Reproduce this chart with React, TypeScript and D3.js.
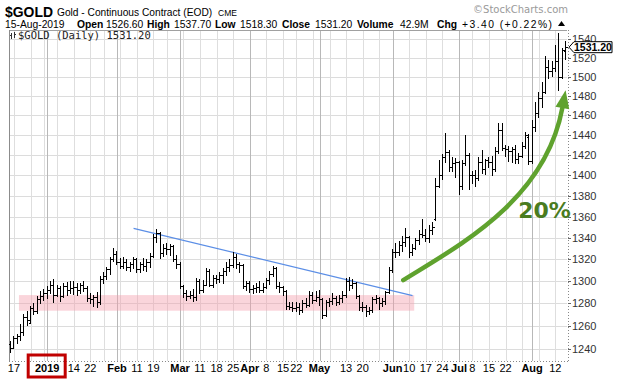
import React from "react";
import * as d3 from "d3";

// ---------- DATA ----------
const dates = [
  "2018-12-14","2018-12-17","2018-12-18","2018-12-19","2018-12-20","2018-12-21","2018-12-24","2018-12-26","2018-12-27","2018-12-28","2018-12-31",
  "2019-01-02","2019-01-03","2019-01-04","2019-01-07","2019-01-08","2019-01-09","2019-01-10","2019-01-11","2019-01-14","2019-01-15","2019-01-16","2019-01-17","2019-01-18","2019-01-22","2019-01-23","2019-01-24","2019-01-25","2019-01-28","2019-01-29","2019-01-30","2019-01-31",
  "2019-02-01","2019-02-04","2019-02-05","2019-02-06","2019-02-07","2019-02-08","2019-02-11","2019-02-12","2019-02-13","2019-02-14","2019-02-15","2019-02-19","2019-02-20","2019-02-21","2019-02-22","2019-02-25","2019-02-26","2019-02-27","2019-02-28",
  "2019-03-01","2019-03-04","2019-03-05","2019-03-06","2019-03-07","2019-03-08","2019-03-11","2019-03-12","2019-03-13","2019-03-14","2019-03-15","2019-03-18","2019-03-19","2019-03-20","2019-03-21","2019-03-22","2019-03-25","2019-03-26","2019-03-27","2019-03-28","2019-03-29",
  "2019-04-01","2019-04-02","2019-04-03","2019-04-04","2019-04-05","2019-04-08","2019-04-09","2019-04-10","2019-04-11","2019-04-12","2019-04-15","2019-04-16","2019-04-17","2019-04-18","2019-04-22","2019-04-23","2019-04-24","2019-04-25","2019-04-26","2019-04-29","2019-04-30",
  "2019-05-01","2019-05-02","2019-05-03","2019-05-06","2019-05-07","2019-05-08","2019-05-09","2019-05-10","2019-05-13","2019-05-14","2019-05-15","2019-05-16","2019-05-17","2019-05-20","2019-05-21","2019-05-22","2019-05-23","2019-05-24","2019-05-28","2019-05-29","2019-05-30","2019-05-31",
  "2019-06-03","2019-06-04","2019-06-05","2019-06-06","2019-06-07","2019-06-10","2019-06-11","2019-06-12","2019-06-13","2019-06-14","2019-06-17","2019-06-18","2019-06-19","2019-06-20","2019-06-21","2019-06-24","2019-06-25","2019-06-26","2019-06-27","2019-06-28",
  "2019-07-01","2019-07-02","2019-07-03","2019-07-05","2019-07-08","2019-07-09","2019-07-10","2019-07-11","2019-07-12","2019-07-15","2019-07-16","2019-07-17","2019-07-18","2019-07-19","2019-07-22","2019-07-23","2019-07-24","2019-07-25","2019-07-26","2019-07-29","2019-07-30","2019-07-31",
  "2019-08-01","2019-08-02","2019-08-05","2019-08-06","2019-08-07","2019-08-08","2019-08-09","2019-08-12","2019-08-13","2019-08-14","2019-08-15",
];

const openP = [
  1244,1241,1249,1251,1255,1268,1263,1276,1273,1284,1287,
  1289,1292,1297,1288,1294,1287,1296,1292,1294,1295,1292,1297,1294,1285,1284,1286,1281,1302,1305,1311,1320,
  1325,1318,1314,1318,1313,1316,1320,1311,1316,1314,1318,1323,1341,1345,1326,1331,1330,1332,1320,
  1316,1296,1289,1287,1288,1286,1300,1292,1297,1309,1297,1303,1302,1306,1309,1313,1315,1322,1316,1315,1296,
  1298,1293,1294,1295,1292,1295,1301,1307,1312,1296,1295,1291,1278,1277,1276,1277,1274,1280,1279,1288,1283,
  1286,1284,1270,1281,1282,1285,1281,1285,1288,1300,1297,1298,1287,1277,1277,1273,1274,1284,1285,1280,1282,1290,
  1310,1327,1327,1333,1336,1341,1327,1331,1338,1344,1343,1340,1347,1358,1390,1400,1418,1423,1408,1412,
  1413,1390,1412,1420,1400,1400,1397,1413,1406,1415,1413,1406,1424,1445,1427,1426,1424,1426,1416,1419,1429,1438,
  1414,1448,1462,1478,1484,1510,1506,1509,1516,1500,1526.6,
];
const highP = [
  1247,1251,1253,1262,1271,1273,1278,1280,1287,1291,1293,
  1296,1300,1302,1297,1296,1298,1299,1300,1300,1298,1298,1300,1296,1289,1288,1290,1305,1308,1313,1322,1331,
  1328,1321,1322,1320,1318,1322,1321,1318,1321,1320,1326,1344,1348,1346,1334,1335,1334,1333,1324,
  1318,1297,1292,1291,1293,1303,1302,1301,1312,1311,1306,1306,1308,1312,1318,1320,1327,1325,1318,1316,1300,
  1300,1297,1298,1300,1298,1303,1309,1314,1313,1299,1296,1292,1281,1281,1281,1280,1283,1285,1291,1290,1291,
  1292,1285,1283,1285,1289,1287,1288,1291,1303,1304,1302,1299,1288,1281,1279,1277,1286,1288,1286,1285,1291,1313,
  1330,1335,1337,1342,1349,1342,1334,1340,1347,1358,1348,1352,1355,1397,1415,1421,1442,1425,1418,1417,
  1414,1415,1440,1422,1404,1405,1418,1425,1416,1418,1419,1428,1452,1452,1430,1429,1428,1430,1422,1433,1443,1441,
  1455,1474,1484,1494,1522,1517,1516,1534,1546,1530,1537.7,
];
const lowP = [
  1237,1240,1245,1247,1252,1260,1262,1270,1271,1280,1283,
  1284,1289,1281,1286,1282,1285,1287,1289,1288,1287,1289,1291,1282,1280,1277,1276,1279,1298,1302,1306,1318,
  1315,1312,1312,1310,1309,1312,1308,1308,1310,1309,1313,1322,1336,1321,1323,1325,1324,1318,1312,
  1293,1285,1283,1284,1282,1283,1289,1290,1296,1295,1294,1298,1299,1298,1305,1309,1313,1312,1308,1293,1292,
  1290,1289,1290,1290,1290,1293,1297,1304,1293,1290,1287,1275,1275,1273,1273,1270,1272,1276,1277,1280,1282,
  1278,1267,1268,1277,1279,1278,1279,1281,1285,1292,1293,1284,1274,1273,1268,1270,1272,1280,1275,1277,1279,1289,
  1308,1322,1324,1327,1332,1322,1324,1329,1334,1340,1337,1336,1343,1356,1388,1396,1413,1404,1404,1398,
  1381,1386,1410,1386,1392,1389,1395,1402,1401,1408,1400,1404,1421,1424,1419,1414,1413,1412,1412,1418,1426,1411,
  1412,1444,1458,1468,1482,1498,1500,1505,1485,1498,1518.3,
];
const closeP = [
  1241,1249,1251,1255,1268,1265,1276,1273,1284,1287,1289,
  1292,1297,1288,1294,1287,1296,1292,1294,1295,1292,1297,1294,1285,1284,1286,1281,1302,1305,1311,1320,1325,
  1318,1314,1318,1313,1316,1320,1311,1316,1314,1318,1323,1341,1345,1326,1331,1330,1332,1320,1316,
  1296,1289,1287,1288,1286,1300,1292,1297,1309,1297,1303,1302,1306,1309,1313,1315,1322,1316,1315,1296,1298,
  1293,1294,1295,1292,1295,1301,1307,1312,1296,1295,1291,1278,1277,1276,1277,1274,1280,1279,1288,1283,1286,
  1284,1270,1281,1282,1285,1281,1285,1288,1300,1297,1298,1287,1277,1277,1273,1274,1284,1285,1280,1282,1290,1310,
  1327,1327,1333,1336,1341,1327,1331,1338,1344,1343,1340,1347,1350,1390,1400,1418,1423,1408,1412,1413,
  1390,1412,1420,1400,1400,1397,1413,1406,1415,1413,1406,1424,1445,1427,1426,1424,1426,1416,1419,1429,1440,1414,
  1448,1462,1478,1484,1510,1506,1509,1516,1500,1527.8,1531.2,
];

const yTicks = [1240,1260,1280,1300,1320,1340,1360,1380,1400,1420,1440,1460,1480,1500,1520,1540];

const xTickDates = ["2018-12-17","2019-01-02","2019-01-14","2019-01-22","2019-02-01","2019-02-11","2019-02-19","2019-03-01","2019-03-11","2019-03-18","2019-03-25","2019-04-01","2019-04-08","2019-04-15","2019-04-22","2019-05-01","2019-05-13","2019-05-20","2019-06-03","2019-06-10","2019-06-17","2019-06-24","2019-07-01","2019-07-08","2019-07-15","2019-07-22","2019-08-01","2019-08-12"];
const xTickLabels = ["17","2019","14","22","Feb","11","19","Mar","11","18","25","Apr","8","15","22","May","13","20","Jun","10","17","24","Jul","8","15","22","Aug","12"];
const xTickBold = [false,true,false,false,true,false,false,true,false,false,false,true,false,false,false,true,false,false,true,false,false,false,true,false,false,false,true,false];

// annotations (bar index / price)
const trendIdx = [37, 121];
const trendPrice = [1349, 1287];
const bandDates = ["2018-12-19", "2019-06-11"];
const bandPrice = [1287.5, 1273.5];
const arrowIdx = [118.2, 135.3, 161.0, 166.1];
const arrowPrice = [1301, 1333.5, 1376, 1467.5];
const pctLabel = { idx: 152.8, price: 1359, text: "20%" };
const lastClose = 1531.2;

const header2 = [
  { t: "15-Aug-2019", b: false, x: 5 },
  { t: "Open", b: true, x: 77 },
  { t: "1526.60", b: false, x: 106 },
  { t: "High", b: true, x: 147 },
  { t: "1537.70", b: false, x: 174 },
  { t: "Low", b: true, x: 215 },
  { t: "1518.30", b: false, x: 240 },
  { t: "Close", b: true, x: 282 },
  { t: "1531.20", b: false, x: 315 },
  { t: "Volume", b: true, x: 357 },
  { t: "42.9M", b: false, x: 400 },
  { t: "Chg", b: true, x: 437 },
  { t: "+3.40 (+0.22%)", b: false, x: 462 },
];

const W = 619, H = 381;
const L = 9, R = 567, T = 30, B = 361;
const ARIAL = "'Liberation Sans', Arial, sans-serif";

export default function App() {
  const n = dates.length;
  const x = d3.scaleBand<string>().domain(dates).range([L, R]).paddingInner(0).paddingOuter(0);
  const bw = x.bandwidth();
  const xc = (d: string) => (x(d) as number) + bw / 2;
  const xi = d3.scaleLinear().domain([0, n]).range([L, R]);
  const xIdx = (i: number) => xi(i + 0.5);
  const y = d3.scaleLog().domain([1229.5, 1549.7]).range([B, T]);

  const day = (d: string) => new Date(d + "T00:00:00Z");
  const weekStarts: { d: string; month: boolean }[] = [];
  dates.forEach((d, i) => {
    if (i === 0) return;
    const a = day(dates[i - 1]), b = day(d);
    const month = a.getUTCMonth() !== b.getUTCMonth();
    const week = b.getUTCDay() <= a.getUTCDay() || (b.getTime() - a.getTime()) > 3 * 86400000;
    if (week || month) weekStarts.push({ d, month });
  });

  const px = (v: number) => Math.round(v) + 0.5;

  // arrow geometry
  const P = arrowIdx.map((ix, k) => [xIdx(ix), y(arrowPrice[k])]);
  const path = d3.path();
  path.moveTo(P[0][0], P[0][1]);
  path.bezierCurveTo(P[1][0], P[1][1], P[2][0], P[2][1], P[3][0], P[3][1]);
  const dx = P[3][0] - P[2][0], dy = P[3][1] - P[2][1];
  const len = Math.hypot(dx, dy);
  const ux = dx / len, uy = dy / len;
  const tip = [P[3][0] + ux * 18, P[3][1] + uy * 18];
  const h1 = [P[3][0] - uy * 7, P[3][1] + ux * 7];
  const h2 = [P[3][0] + uy * 7, P[3][1] - ux * 7];

  const yc = y(lastClose);
  const yearIdx = xTickLabels.indexOf("2019");
  const yearX = xc(xTickDates[yearIdx]);

  return (
    <svg width={W} height={H} style={{ position: "absolute", left: 0, top: 0, background: "#fff" }}
      xmlns="http://www.w3.org/2000/svg">
      <rect x={0} y={0} width={W} height={H} fill="#fff" />
      {/* header */}
      <text x={5} y={16.5} fontFamily={ARIAL} fontWeight="bold" fontSize={15} textLength={48} lengthAdjust="spacingAndGlyphs" fill="#000">$GOLD</text>
      <text x={57} y={16} fontFamily={ARIAL} fontSize={10.2} fill="#000">Gold - Continuous Contract (EOD)</text>
      <text x={218} y={16} fontFamily={ARIAL} fontSize={8.5} fill="#000">CME</text>
      <text x={568} y={13} textAnchor="end" fontFamily="'DejaVu Sans', Verdana, sans-serif" fontSize={10} fill="#9a9a9a">©StockCharts.com</text>
      {header2.map((s, k) => (
        <text key={k} x={s.x} y={27.5} fontFamily={ARIAL} fontSize={10.3} fontWeight={s.b ? "bold" : "normal"} fill="#000"
          {...(k === header2.length - 1 ? { textLength: 90, lengthAdjust: "spacing" } : {})}>{s.t}</text>
      ))}
      <polygon points="558,26 565,26 561.5,21" fill="#000" />

      {/* grid */}
      <g shapeRendering="crispEdges">
        {yTicks.map((t) => (
          <line key={t} x1={L} x2={R} y1={px(y(t))} y2={px(y(t))} stroke="#dcdcdc" strokeWidth={1} />
        ))}
        {weekStarts.map((w) => (
          <line key={w.d} x1={px(xc(w.d))} x2={px(xc(w.d))} y1={T} y2={B} stroke={w.month ? "#b8b8b8" : "#dedede"} strokeWidth={1} />
        ))}
      </g>

      {/* support band */}
      <rect x={x(bandDates[0]) as number} width={(x(bandDates[1]) as number) + bw - (x(bandDates[0]) as number)}
        y={y(bandPrice[0])} height={y(bandPrice[1]) - y(bandPrice[0])} fill="#f29aaa" opacity={0.42} />

      {/* plot frame */}
      <g shapeRendering="crispEdges">
        <line x1={L} x2={R} y1={T + 0.5} y2={T + 0.5} stroke="#a0a0a0" />
        <line x1={L + 0.5} x2={L + 0.5} y1={T} y2={B} stroke="#8c8c8c" />
        <line x1={L} x2={R + 1} y1={B + 0.5} y2={B + 0.5} stroke="#888" strokeDasharray="1,2" />
        <line x1={R + 1.5} x2={R + 1.5} y1={T} y2={B} stroke="#888" strokeDasharray="1,2" />
        {yTicks.map((t) => (
          <line key={t} x1={R + 1} x2={R + 4} y1={px(y(t))} y2={px(y(t))} stroke="#666" />
        ))}
      </g>

      {/* trend line */}
      <line x1={xIdx(trendIdx[0])} y1={y(trendPrice[0])} x2={xIdx(trendIdx[1])} y2={y(trendPrice[1])}
        stroke="#5b8ee6" strokeWidth={1.2} />

      {/* OHLC bars */}
      <g stroke="#000" strokeWidth={1} shapeRendering="crispEdges">
        {dates.map((d, i) => {
          const cx = px(xc(d) - 0.5);
          return (
            <g key={d}>
              <line x1={cx} x2={cx} y1={y(highP[i])} y2={y(lowP[i]) + 0.5} />
              <line x1={cx - 2} x2={cx} y1={px(y(openP[i]))} y2={px(y(openP[i]))} />
              <line x1={cx} x2={cx + 2} y1={px(y(closeP[i]))} y2={px(y(closeP[i]))} />
            </g>
          );
        })}
      </g>

      {/* legend */}
      <g stroke="#333" strokeWidth={1} shapeRendering="crispEdges">
        <line x1={11.5} x2={11.5} y1={33} y2={39} />
        <line x1={14.5} x2={14.5} y1={32} y2={38} />
        <line x1={10} x2={11.5} y1={35.5} y2={35.5} />
        <line x1={14.5} x2={16} y1={34.5} y2={34.5} />
      </g>
      <text x={18} y={38.5} fontFamily="'DejaVu Sans Mono', monospace" fontSize={10.5} fill="#222">$GOLD (Daily) 1531.20</text>

      {/* y labels */}
      {yTicks.map((t) => (
        <text key={t} x={572} y={y(t) + 4} fontFamily={ARIAL} fontSize={11} fill="#333">{t}</text>
      ))}
      {/* last price box */}
      <polygon points={`${R + 2},${yc} ${R + 7},${yc - 5.5} ${612},${yc - 5.5} ${612},${yc + 5.5} ${R + 7},${yc + 5.5}`}
        fill="#fff" stroke="#000" strokeWidth={1} />
      <text x={574} y={yc + 4} fontFamily={ARIAL} fontSize={10.5} fontWeight="bold" fill="#000">{lastClose.toFixed(2)}</text>

      {/* x labels */}
      {xTickDates.map((d, k) => (
        <text key={k} x={xc(d)} y={372} textAnchor="middle" fontFamily={ARIAL} fontSize={11}
          fontWeight={xTickBold[k] ? "bold" : "normal"} fill="#000">{xTickLabels[k]}</text>
      ))}
      <rect x={yearX - 19} y={355} width={37} height={22} fill="none" stroke="#c00000" strokeWidth={3} />

      {/* arrow */}
      <path d={path.toString()} fill="none" stroke="#5fa22e" strokeWidth={4.5} strokeLinecap="round" />
      <polygon points={`${tip[0]},${tip[1]} ${h1[0]},${h1[1]} ${h2[0]},${h2[1]}`} fill="#5fa22e" />
      <text x={xIdx(pctLabel.idx)} y={y(pctLabel.price)} fontFamily="'DejaVu Sans', Verdana, sans-serif" fontWeight="bold"
        fontSize={22} fill="#4a7c1f">{pctLabel.text}</text>
    </svg>
  );
}
